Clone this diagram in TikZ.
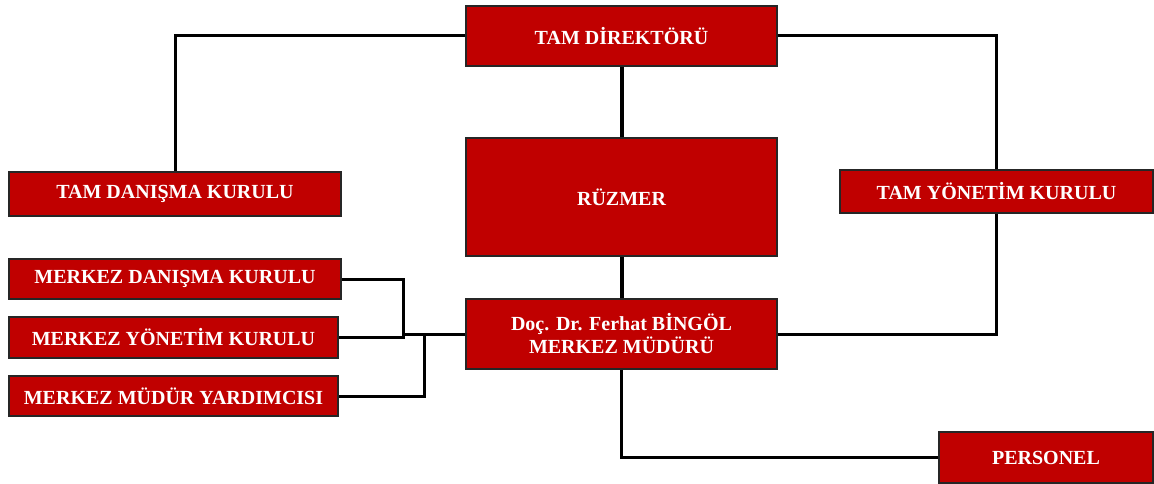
\documentclass[tikz,border=0pt]{standalone}
\usepackage{fontspec}
\setmainfont{Liberation Serif}
\definecolor{boxred}{RGB}{192,0,0}
\begin{document}
\begin{tikzpicture}[x=1pt,y=-1pt,
  box/.style={rectangle, fill=boxred, draw=black!85, line width=1.5pt, text=white,
    font=\bfseries\fontsize{20}{23}\selectfont, inner sep=0pt, align=center},
  conn/.style={draw=black, line width=3pt},
  thick conn/.style={draw=black, line width=4pt}]
\useasboundingbox (0,0) rectangle (1154,484);
\node[box, minimum width=311pt, minimum height=60pt] (dir) at (621.5,36) {TAM DİREKTÖRÜ};
\node[box, minimum width=332pt, minimum height=44pt] (tdk) at (175,194) {TAM DANIŞMA KURULU};
\node[box, minimum width=313pt, minimum height=43pt] (tyk) at (996.5,191.5) {TAM YÖNETİM KURULU};
\node[box, minimum width=311pt, minimum height=118pt] (ruz) at (621.5,197) {RÜZMER};
\node[box, minimum width=311pt, minimum height=70pt] (doc) at (621.5,334) {Doç. Dr. Ferhat BİNGÖL\\MERKEZ MÜDÜRÜ};
\node[box, minimum width=332pt, minimum height=40pt] (mdk) at (175,279) {MERKEZ DANIŞMA KURULU};
\node[box, minimum width=329pt, minimum height=41pt] (myk) at (173.5,337.5) {MERKEZ YÖNETİM KURULU};
\node[box, minimum width=329pt, minimum height=40pt] (mmy) at (173.5,396) {MERKEZ MÜDÜR YARDIMCISI};
\node[box, minimum width=214pt, minimum height=51pt] (per) at (1046,457.5) {PERSONEL};
\coordinate (j1) at (403,334);
\coordinate (j2) at (424,334);
\begin{scope}[on background layer/.style={}]
\draw[conn] (dir.west) -| (tdk.north);
\draw[conn] (dir.east) -| (tyk.north);
\draw[thick conn] (dir.south) -- (ruz.north);
\draw[thick conn] (ruz.south) -- (doc.north);
\draw[conn] (tyk.south) |- (doc.east);
\draw[conn] (doc.south) |- (per.west);
\draw[conn] (doc.west) -- (j1);
\draw[conn] (mdk.east) -| (myk.east -| j1) -- (myk.east);
\draw[conn] (mmy.east) -| (j2);
\end{scope}
\end{tikzpicture}
\end{document}
